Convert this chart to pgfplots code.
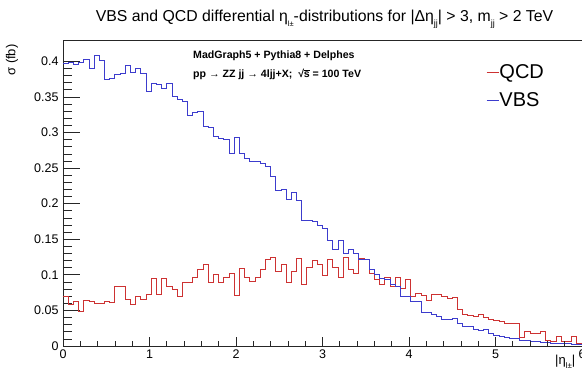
\documentclass[border=0pt]{standalone}
\usepackage{pgfplots}
\pgfplotsset{compat=1.18}
\usepackage{pgfplotstable}
\usepackage{fontspec}
\setmainfont{Liberation Sans}
\definecolor{qcdred}{RGB}{205,50,50}
\definecolor{vbsblue}{RGB}{60,60,205}
\newcommand{\sub}[2][7.5]{\raisebox{-0.55ex}{\fontsize{#1}{#1}\selectfont #2}}

\pgfplotstableread{
x qcd vbs
0.00 0.070 0.397
0.06 0.058 0.398
0.12 0.063 0.396
0.18 0.049 0.398
0.24 0.064 0.403
0.30 0.062 0.390
0.36 0.060 0.408
0.42 0.060 0.401
0.48 0.062 0.375
0.54 0.061 0.376
0.60 0.083 0.382
0.66 0.083 0.383
0.72 0.065 0.394
0.78 0.059 0.384
0.84 0.069 0.390
0.90 0.066 0.383
0.96 0.073 0.358
1.02 0.095 0.369
1.08 0.072 0.368
1.14 0.095 0.362
1.20 0.083 0.369
1.26 0.080 0.351
1.32 0.069 0.346
1.38 0.090 0.343
1.44 0.090 0.324
1.50 0.097 0.328
1.56 0.107 0.329
1.62 0.114 0.309
1.68 0.090 0.307
1.74 0.100 0.294
1.80 0.090 0.292
1.86 0.097 0.290
1.92 0.102 0.271
1.98 0.071 0.293
2.04 0.109 0.271
2.10 0.097 0.264
2.16 0.091 0.260
2.22 0.097 0.259
2.28 0.107 0.257
2.34 0.122 0.252
2.40 0.124 0.238
2.46 0.105 0.219
2.52 0.114 0.220
2.58 0.090 0.206
2.64 0.105 0.216
2.70 0.123 0.205
2.76 0.087 0.177
2.82 0.111 0.177
2.88 0.120 0.175
2.94 0.115 0.170
3.00 0.099 0.165
3.06 0.122 0.149
3.12 0.110 0.136
3.18 0.096 0.149
3.24 0.125 0.130
3.30 0.108 0.136
3.36 0.102 0.130
3.42 0.123 0.122
3.48 0.121 0.121
3.54 0.102 0.108
3.60 0.093 0.100
3.66 0.086 0.095
3.72 0.097 0.093
3.78 0.083 0.087
3.84 0.097 0.083
3.90 0.081 0.070
3.96 0.093 0.070
4.02 0.069 0.062
4.08 0.074 0.062
4.14 0.071 0.047
4.20 0.064 0.047
4.26 0.073 0.044
4.32 0.072 0.041
4.38 0.069 0.038
4.44 0.067 0.037
4.50 0.068 0.039
4.56 0.052 0.032
4.62 0.045 0.028
4.68 0.043 0.027
4.74 0.041 0.023
4.80 0.045 0.022
4.86 0.040 0.023
4.92 0.038 0.017
4.98 0.036 0.015
5.04 0.034 0.014
5.10 0.032 0.012
5.16 0.032 0.010
5.22 0.032 0.010
5.28 0.012 0.008
5.34 0.020 0.0075
5.40 0.018 0.0065
5.46 0.018 0.006
5.52 0.020 0.005
5.58 0.008 0.005
5.64 0.007 0.004
5.70 0.013 0.004
5.76 0.006 0.003
5.82 0.006 0.003
5.88 0.013 0.002
5.94 0.004 0.002
6.00 0.004 0.002
}\histdata

\begin{document}
\begin{tikzpicture}
\begin{axis}[
  name=ax,
  scale only axis, width=519pt, height=306pt,
  xmin=0, xmax=6, ymin=0, ymax=0.43,
  axis line style={black!85, line width=0.7pt},
  tick align=inside, tick pos=left,
  xtick=\empty,
  ytick={0,0.05,0.1,0.15,0.2,0.25,0.3,0.35,0.4},
  minor y tick num=4,
  major tick length=17pt, minor tick length=9pt,
  tick style={black!85, line width=0.7pt},
  /pgf/number format/assume math mode=true,
  yticklabel style={/pgf/number format/.cd, fixed, precision=2, /tikz/.cd,
    font=\fontsize{12.5}{14}\selectfont, xshift=-1pt},
  ylabel={σ (fb)},
  ylabel style={at={(axis description cs:-0.098,0.997)}, anchor=east,
    font=\fontsize{13}{15}\selectfont},
  xlabel={|η\sub[8]{l±}|},
  xlabel style={at={(axis description cs:0.994,-0.018)}, anchor=north east,
    font=\fontsize{13}{15}\selectfont},
  title={VBS and QCD differential η\sub{l±}-distributions for |Δη\sub[9]{jj}| {\textgreater} 3, m\sub[9]{jj} {\textgreater} 2 TeV},
  title style={at={(axis description cs:0.504,1.049)}, anchor=center,
    font=\fontsize{15.8}{18}\selectfont},
  legend style={draw=none, fill=none, at={(axis description cs:0.815,0.922)},
    anchor=north west, font=\fontsize{20}{23}\selectfont, row sep=12pt,
    inner sep=0pt, nodes={inner sep=0.5pt}},
  legend cell align=left,
]
\addlegendimage{legend image code/.code={\draw[draw=qcdred, line width=0.8pt] (0pt,0pt) -- (12pt,0pt);}}
\addlegendentry{QCD}
\addlegendimage{legend image code/.code={\draw[draw=vbsblue, line width=0.8pt] (0pt,0pt) -- (12pt,0pt);}}
\addlegendentry{VBS}
\addplot[const plot mark left, draw=qcdred, line width=0.9pt, forget plot] table[x=x, y=qcd] {\histdata};
\addplot[const plot mark left, draw=vbsblue, line width=0.9pt, forget plot] table[x=x, y=vbs] {\histdata};
\node[anchor=west, inner sep=0pt, font=\bfseries\fontsize{10.6}{12}\selectfont] at (axis description cs:0.2505,0.948) {MadGraph5 + Pythia8 + Delphes};
\node[anchor=west, inner sep=0pt, font=\bfseries\fontsize{10.6}{12}\selectfont] at (axis description cs:0.2505,0.887) {pp {\mdseries →} ZZ jj {\mdseries →} 4ljj+X;\ \ √\kern-0.3pt$\overline{\mbox{s}}$ = 100 TeV};
\end{axis}
\begin{axis}[
  scale only axis, width=519pt, height=306pt,
  xmin=0, xmax=6, ymin=0, ymax=0.43,
  axis line style={draw=none},
  tick align=inside, tick pos=left,
  ytick=\empty,
  xtick={0,1,2,3,4,5,6},
  minor x tick num=4,
  major tick length=9pt, minor tick length=5pt,
  tick style={black!85, line width=0.7pt},
  /pgf/number format/assume math mode=true,
  xticklabel style={font=\fontsize{12.5}{14}\selectfont},
]
\end{axis}
\pgfresetboundingbox
\path[use as bounding box] ([shift={(-63pt,-26pt)}]ax.south west) rectangle ([shift={(0pt,40pt)}]ax.north east);
\end{tikzpicture}
\end{document}
